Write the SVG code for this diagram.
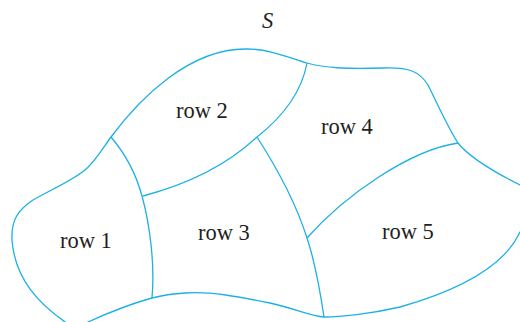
<svg xmlns="http://www.w3.org/2000/svg" width="520" height="322" viewBox="0 0 520 322">
<style>
.ln{fill:none;stroke:#1cb0e6;stroke-width:1.3}
.lb{font-family:"Liberation Serif",serif;font-size:22.5px;fill:#231f20}
</style>
<rect width="520" height="322" fill="#fff"/>
<g id="outline">
<path class="ln" d="M111,137 C140,98 190,48 247,49 C270,49 290,58 307,63 C325,68 345,69 383,68 C410,67 420,72 428,85 C438,105 448,128 458,143 C466,153 480,165 520,185 C545,198 545,215 520,232 C505,265 460,290 400,307 C370,314 340,317 324,317 C310,316 300,310 270,303 C240,297 210,291 185,293 C170,294 160,296 152,298 C130,304 110,312 88,322 C80,328 72,327 68,324 C40,305 15,280 12,240 C11,220 18,210 33,200 C50,190 70,182 85,170 C95,162 103,148 111,137 Z"/>
</g>
<g id="connectors">
<path class="ln" d="M111,137 C122,150 135,170 142,196 C150,225 155,265 152,298"/>
<path class="ln" d="M307,63 C302,90 285,115 257,137 C225,167 185,185 143,196"/>
<path class="ln" d="M257,137 C275,165 295,200 307,238 C315,262 320,290 324,317"/>
<path class="ln" d="M458,143 C410,150 345,195 307,238"/>
</g>
<g id="title"><text class="lb" x="262" y="28" font-style="italic">S</text></g>
<g id="row1"><text class="lb" x="60" y="248">row 1</text></g>
<g id="row2"><text class="lb" x="176" y="118">row 2</text></g>
<g id="row3"><text class="lb" x="198" y="240">row 3</text></g>
<g id="row4"><text class="lb" x="321" y="134">row 4</text></g>
<g id="row5"><text class="lb" x="382" y="239">row 5</text></g>
</svg>
